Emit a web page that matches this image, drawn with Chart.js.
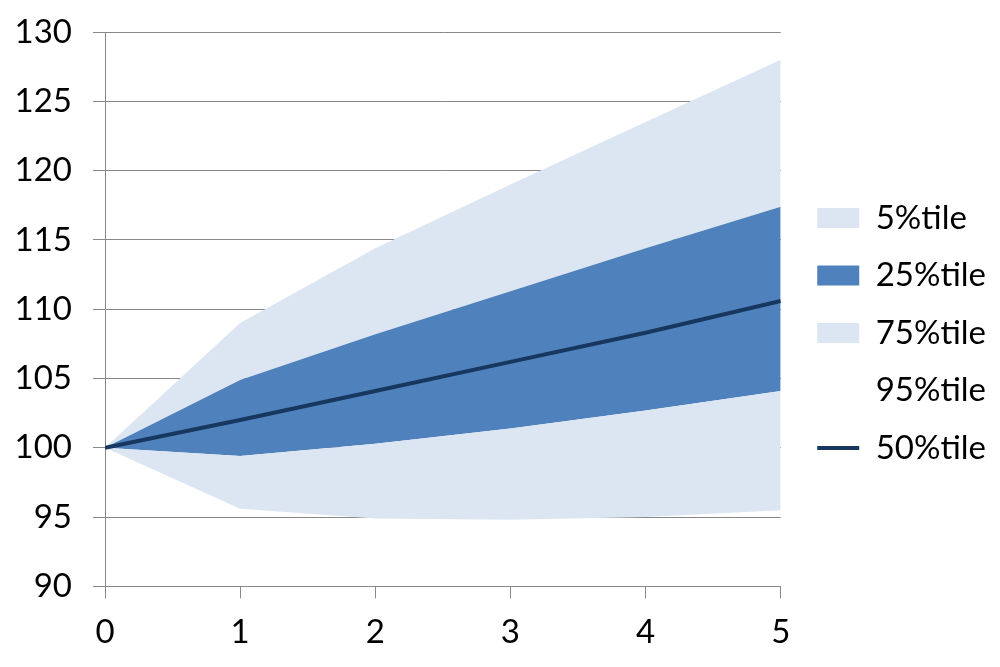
<!DOCTYPE html>
<html>
<head>
<meta charset="utf-8">
<script src="https://cdn.jsdelivr.net/npm/chart.js@4"></script>
<style>
  html, body { margin: 0; padding: 0; background: #fff; }
  #wrap { width: 1000px; height: 667px; }
</style>
</head>
<body>
<div id="wrap"><canvas id="myChart" width="1000" height="667"></canvas></div>
<script>
const years = [0, 1, 2, 3, 4, 5];
const p5  = [100, 95.6, 94.9, 94.8, 95.0, 95.5];
const p25 = [100, 99.4, 100.3, 101.4, 102.7, 104.1];
const p50 = [100, 102.0, 104.1, 106.2, 108.3, 110.6];
const p75 = [100, 104.9, 108.2, 111.3, 114.4, 117.4];
const p95 = [100, 109.0, 114.4, 119.0, 123.5, 128.0];
const yTicks = [90, 95, 100, 105, 110, 115, 120, 125, 130];

const light = '#dce6f2';
const dark = '#4f81bd';
const navy = '#17375e';

function pts(vals) {
    return years.map((x, i) => ({x: x, y: vals[i]}));
}

function band(label, vals, color, fill) {
    return {
        label: label,
        data: pts(vals),
        backgroundColor: color,
        borderColor: color,
        borderWidth: 0,
        pointRadius: 0,
        pointStyle: 'rect',
        fill: fill,
        tension: 0
    };
}

// nudge the legend block a little (Excel puts it a bit further right)
const legendShift = {
    id: 'legendShift',
    afterLayout(chart) {
        const lg = chart.legend;
        const dx = 12, dy = -16;
        lg.left += dx; lg.right += dx;
        lg.top += dy; lg.bottom += dy;
    }
};

Chart.defaults.font.family = 'Lato, "Open Sans", sans-serif';
Chart.defaults.color = '#000';

new Chart("myChart", {
    type: "line",
    data: {
        datasets: [
            band('5%tile', p5, light, '+1'),
            band('25%tile', p25, dark, '+1'),
            band('75%tile', p75, light, '+1'),
            band('95%tile', p95, 'rgba(0,0,0,0)', false),
            {
                label: '50%tile',
                data: pts(p50),
                borderColor: navy,
                backgroundColor: navy,
                borderWidth: 4,
                pointRadius: 0,
                pointStyle: 'line',
                fill: false,
                tension: 0
            }
        ]
    },
    plugins: [legendShift],
    options: {
        responsive: false,
        animation: false,
        layout: {padding: {top: 32, left: 0, right: 16, bottom: 1}},
        plugins: {
            filler: {drawTime: 'beforeDatasetsDraw'},
            tooltip: {enabled: false},
            legend: {
                display: true,
                position: 'right',
                labels: {
                    usePointStyle: true,
                    pointStyleWidth: 42,
                    boxHeight: 20,
                    padding: 24.5,
                    font: {size: 33}
                }
            }
        },
        scales: {
            x: {
                type: 'linear',
                min: 0,
                max: 5,
                ticks: {stepSize: 1, font: {size: 33}, padding: 14},
                grid: {display: true, drawOnChartArea: false, color: '#888', tickLength: 12},
                border: {color: '#888', width: 1}
            },
            y: {
                min: 90,
                max: 130,
                afterBuildTicks: axis => { axis.ticks = yTicks.map(v => ({value: v})); },
                afterFit: s => { s.width = 105; },
                ticks: {font: {size: 33, lineHeight: 0.4}, padding: 21},
                grid: {color: '#888', tickLength: 12},
                border: {color: '#888', width: 1}
            }
        }
    }
});
</script>
</body>
</html>
